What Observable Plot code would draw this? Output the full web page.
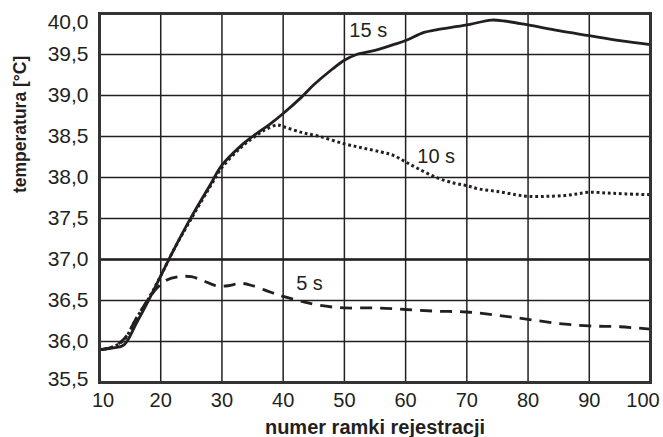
<!DOCTYPE html>
<html>
<head>
<meta charset="utf-8">
<script src="https://cdn.jsdelivr.net/npm/d3@7"></script>
<script src="https://cdn.jsdelivr.net/npm/@observablehq/plot@0.6"></script>
<style>
  html, body { margin: 0; padding: 0; background: #fff; }
  #chart svg { display: block; }
</style>
</head>
<body>
<div id="chart"></div>
<script>
// ---- data ----
const xTicks = [10, 20, 30, 40, 50, 60, 70, 80, 90, 100];
const yTicks = [35.5, 36.0, 36.5, 37.0, 37.5, 38.0, 38.5, 39.0, 39.5, 40.0];

const x15 = [10, 12, 14, 16, 18, 20, 22, 25, 28, 30, 33, 35, 38, 40, 43, 45, 48, 50, 52, 55, 58, 60, 63, 65, 70, 74, 76, 80, 85, 90, 95, 100];
const t15 = [35.90, 35.92, 35.96, 36.22, 36.50, 36.80, 37.10, 37.52, 37.90, 38.15, 38.38, 38.50, 38.66, 38.78, 38.98, 39.13, 39.32, 39.43, 39.50, 39.55, 39.62, 39.67, 39.77, 39.80, 39.86, 39.92, 39.91, 39.86, 39.79, 39.73, 39.67, 39.62];

const x10 = [10, 12, 14, 16, 18, 20, 22, 25, 28, 30, 33, 35, 37, 39, 40, 43, 46, 50, 53, 56, 58, 60, 62, 65, 68, 70, 72, 75, 78, 80, 83, 86, 88, 90, 93, 96, 100];
const t10 = [35.90, 35.93, 36.02, 36.28, 36.52, 36.80, 37.10, 37.50, 37.88, 38.12, 38.36, 38.48, 38.58, 38.64, 38.62, 38.55, 38.50, 38.41, 38.36, 38.31, 38.27, 38.19, 38.11, 38.00, 37.93, 37.90, 37.86, 37.83, 37.79, 37.77, 37.77, 37.78, 37.80, 37.82, 37.81, 37.80, 37.79];

const x5 = [10, 12, 14, 16, 18, 19.5, 21, 23, 25, 27, 29, 31, 33, 35, 38, 40, 43, 46, 50, 55, 60, 65, 70, 75, 80, 85, 90, 95, 100];
const t5 = [35.90, 35.93, 36.03, 36.28, 36.52, 36.66, 36.75, 36.79, 36.79, 36.74, 36.68, 36.68, 36.71, 36.68, 36.60, 36.55, 36.49, 36.44, 36.41, 36.41, 36.39, 36.37, 36.36, 36.32, 36.27, 36.22, 36.19, 36.18, 36.15];

const seriesLabels = ["15 s", "10 s", "5 s"];
const labelX = [53.9, 65.0, 44.3];
const labelY = [39.71, 38.18, 36.63];

const xTitle = "numer ramki rejestracji";
const yTitle = "temperatura [°C]";

// ---- drawing ----
const ink = "#231f20";
const fmt = d => d3.format(".1f")(d).replace(".", ",");
const font = "'Liberation Sans', Arial, Helvetica, sans-serif";
const xTickFont = 20;
const yTickFont = 21;

const chart = Plot.plot({
  width: 663,
  height: 437,
  marginLeft: 99,
  marginRight: 13,
  marginTop: 13,
  marginBottom: 55,
  style: { fontFamily: font, fontSize: "20px", color: ink, background: "#fff", overflow: "visible" },
  x: { domain: [10, 100], axis: null },
  y: { domain: [35.5, 40], axis: null },
  marks: [
    Plot.gridX(xTicks, { stroke: ink, strokeOpacity: 1, strokeWidth: 1.5 }),
    Plot.gridY(yTicks, { stroke: ink, strokeOpacity: 1, strokeWidth: 1.5 }),
    Plot.ruleY([37.0], { stroke: ink, strokeWidth: 2.6 }),
    Plot.line(t5, { x: x5, y: t5, curve: "catmull-rom", stroke: ink, strokeWidth: 2.8, strokeDasharray: "12,8", strokeLinecap: "butt" }),
    Plot.line(t10, { x: x10, y: t10, curve: "catmull-rom", stroke: ink, strokeWidth: 3, strokeDasharray: "2.8,2.8", strokeLinecap: "butt" }),
    Plot.line(t15, { x: x15, y: t15, curve: "catmull-rom", stroke: ink, strokeWidth: 2.8 }),
    Plot.frame({ stroke: "#333", strokeWidth: 3 }),
    // axes
    Plot.axisX(xTicks.slice(1, -1), { tickSize: 0, tickPadding: 10, tickFormat: d => String(d), fontSize: xTickFont, fill: ink }),
    Plot.axisX([xTicks[0]], { tickSize: 0, tickPadding: 10, dx: 3.5, tickFormat: d => String(d), fontSize: xTickFont, fill: ink }),
    Plot.axisX([xTicks[xTicks.length - 1]], { tickSize: 0, tickPadding: 10, dx: -7.5, tickFormat: d => String(d), fontSize: xTickFont, fill: ink }),
    Plot.axisY(yTicks.slice(1, -1), { tickSize: 0, tickPadding: 11, tickFormat: fmt, fontSize: yTickFont, fill: ink }),
    Plot.axisY([yTicks[0]], { tickSize: 0, tickPadding: 11, dy: -3.5, tickFormat: fmt, fontSize: yTickFont, fill: ink }),
    Plot.axisY([yTicks[yTicks.length - 1]], { tickSize: 0, tickPadding: 11, dy: 8.5, tickFormat: fmt, fontSize: yTickFont, fill: ink }),
    // series labels
    Plot.text(seriesLabels, { x: labelX, y: labelY, text: d => d, lineAnchor: "bottom", fontSize: 20, fill: ink }),
    // axis titles
    Plot.text([xTitle], { frameAnchor: "bottom", text: d => d, lineAnchor: "bottom", dy: 51, fontSize: 20, fontWeight: "bold", fill: ink }),
    Plot.text([yTitle], { frameAnchor: "left", text: d => d, rotate: -90, lineAnchor: "middle", dx: -79, dy: -5, fontSize: 17.5, fontWeight: "bold", fill: ink })
  ]
});

document.getElementById("chart").appendChild(chart);
</script>
</body>
</html>
